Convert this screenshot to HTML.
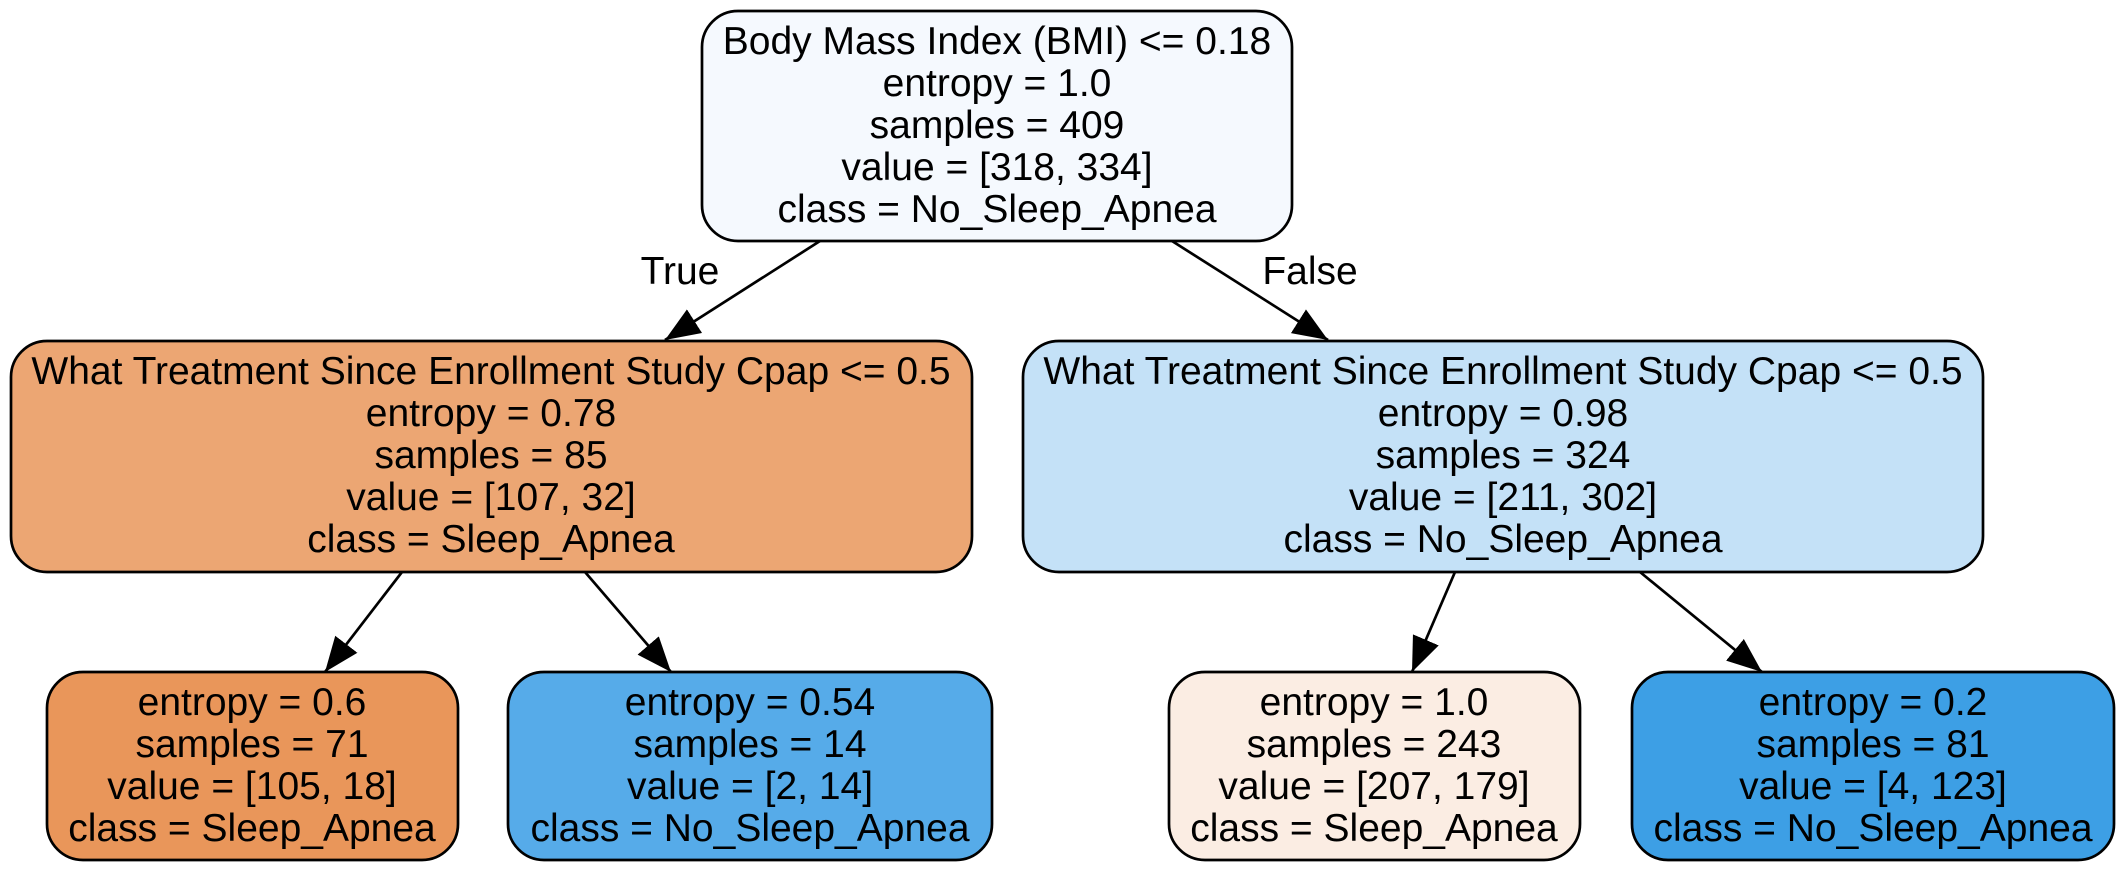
<!DOCTYPE html>
<html><head><meta charset="utf-8"><style>
html,body{margin:0;padding:0;background:#fff;}
svg{display:block;}
text{font-family:"Liberation Sans",Arial,sans-serif;font-size:39px;fill:#000;text-anchor:middle;}
</style></head><body>
<svg width="2125" height="872" viewBox="0 0 2125 872" xmlns="http://www.w3.org/2000/svg">
<defs>
<marker id="ah" markerUnits="userSpaceOnUse" markerWidth="38" markerHeight="30" refX="35" refY="14" orient="auto">
<path d="M0,0 L35,14 L0,28 Z" fill="#000"/>
</marker>
</defs>
<g stroke="#000" stroke-width="2.7">
<line x1="820" y1="241" x2="665" y2="340" marker-end="url(#ah)"/>
<line x1="1172" y1="241" x2="1328" y2="340" marker-end="url(#ah)"/>
<line x1="402" y1="572" x2="325" y2="672" marker-end="url(#ah)"/>
<line x1="585" y1="572" x2="671" y2="672" marker-end="url(#ah)"/>
<line x1="1455" y1="572" x2="1412" y2="672" marker-end="url(#ah)"/>
<line x1="1640" y1="572" x2="1762" y2="672" marker-end="url(#ah)"/>
<rect x="702" y="11" width="590" height="230" rx="36" fill="#f5f9fe"/>
<rect x="11" y="341" width="961" height="231" rx="36" fill="#eca673"/>
<rect x="1023" y="341" width="960" height="231" rx="36" fill="#c4e1f7"/>
<rect x="47" y="672" width="411" height="188" rx="36" fill="#e9965a"/>
<rect x="508" y="672" width="484" height="188" rx="36" fill="#56abe9"/>
<rect x="1169" y="672" width="411" height="188" rx="36" fill="#fbede3"/>
<rect x="1632" y="672" width="482" height="188" rx="36" fill="#3d9fe5"/>
</g>
<text x="680" y="284">True</text>
<text x="1310" y="284">False</text>

<text x="997" y="54">Body Mass Index (BMI) &lt;= 0.18</text>
<text x="997" y="96">entropy = 1.0</text>
<text x="997" y="138">samples = 409</text>
<text x="997" y="180">value = [318, 334]</text>
<text x="997" y="222">class = No_Sleep_Apnea</text>

<text x="491" y="384">What Treatment Since Enrollment Study Cpap &lt;= 0.5</text>
<text x="491" y="426">entropy = 0.78</text>
<text x="491" y="468">samples = 85</text>
<text x="491" y="510">value = [107, 32]</text>
<text x="491" y="552">class = Sleep_Apnea</text>

<text x="1503" y="384">What Treatment Since Enrollment Study Cpap &lt;= 0.5</text>
<text x="1503" y="426">entropy = 0.98</text>
<text x="1503" y="468">samples = 324</text>
<text x="1503" y="510">value = [211, 302]</text>
<text x="1503" y="552">class = No_Sleep_Apnea</text>

<text x="252" y="715">entropy = 0.6</text>
<text x="252" y="757">samples = 71</text>
<text x="252" y="799">value = [105, 18]</text>
<text x="252" y="841">class = Sleep_Apnea</text>

<text x="750" y="715">entropy = 0.54</text>
<text x="750" y="757">samples = 14</text>
<text x="750" y="799">value = [2, 14]</text>
<text x="750" y="841">class = No_Sleep_Apnea</text>

<text x="1374" y="715">entropy = 1.0</text>
<text x="1374" y="757">samples = 243</text>
<text x="1374" y="799">value = [207, 179]</text>
<text x="1374" y="841">class = Sleep_Apnea</text>

<text x="1873" y="715">entropy = 0.2</text>
<text x="1873" y="757">samples = 81</text>
<text x="1873" y="799">value = [4, 123]</text>
<text x="1873" y="841">class = No_Sleep_Apnea</text>
</svg>
</body></html>
